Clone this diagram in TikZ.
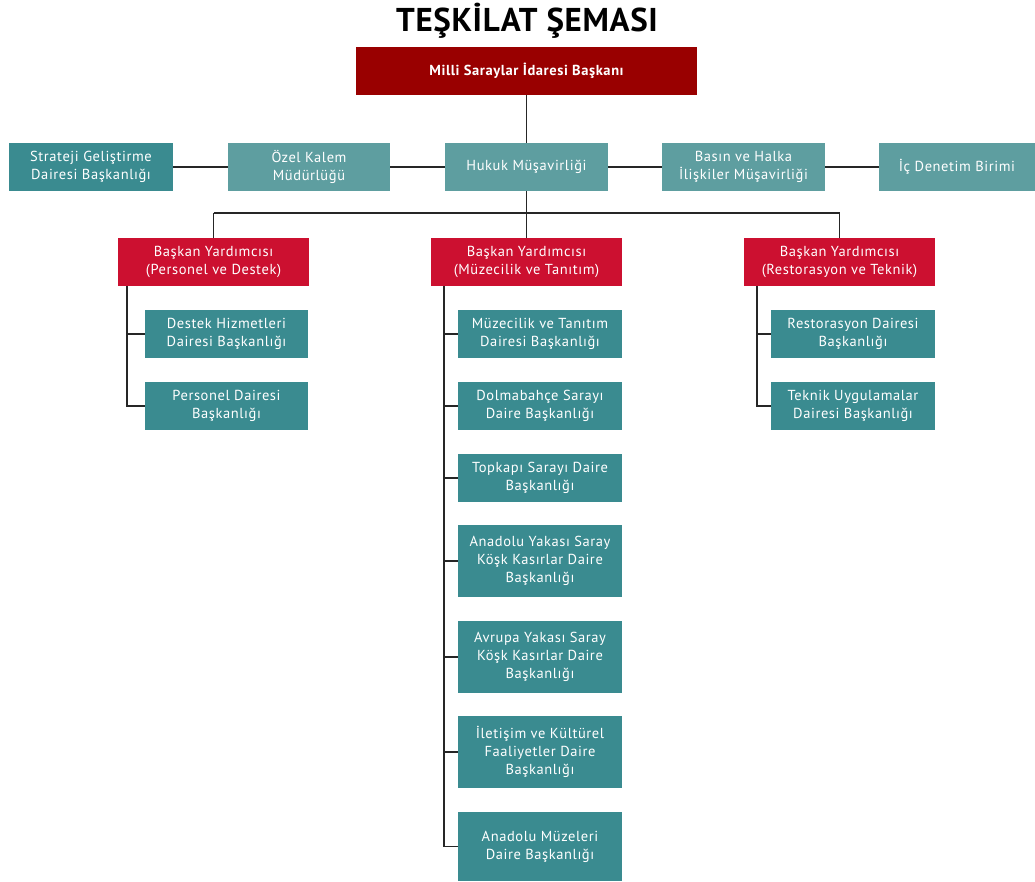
\documentclass[tikz,border=0pt]{standalone}
\usepackage{fontspec}
\setmainfont{PT Sans}[LetterSpace=4]
\newfontfamily\titlefont{PT Sans}[LetterSpace=2]
\begin{document}
\begin{tikzpicture}[x=1pt,y=-1pt,
  base/.style={draw=none,text=white,align=center,inner sep=2pt,
    font=\fontsize{14.5}{18}\selectfont,minimum height=48pt},
  darkred/.style={base,fill=topred,font=\bfseries\fontsize{14.5}{18}\selectfont},
  vicebox/.style={base,fill=vicered,minimum width=191pt},
  leadbox/.style={base,fill=leadteal,minimum width=163pt},
  unitbox/.style={base,fill=unitteal,minimum width=164pt},
  conn/.style={draw=black!85,line width=1.1pt}]
\definecolor{topred}{HTML}{990000}
\definecolor{vicered}{HTML}{CC1030}
\definecolor{leadteal}{HTML}{5E9EA0}
\definecolor{unitteal}{HTML}{3A8B90}
\useasboundingbox (0,0) rectangle (1035,881);

\node[font=\titlefont\bfseries\fontsize{33}{36}\selectfont] (title) at (527,21) {TEŞKİLAT ŞEMASI};

\node[darkred,minimum width=341pt] (top) at (526.5,71) {Milli Saraylar İdaresi Başkanı};

% second row
\node[unitbox] (strat) at (91,167) {Strateji Geliştirme\\Dairesi Başkanlığı};
\node[leadbox,minimum width=162pt] (ozel) at (309,167) {Özel Kalem\\Müdürlüğü};
\node[leadbox] (hukuk) at (526.5,167) {Hukuk Müşavirliği};
\node[leadbox] (basin) at (743.5,167) {Basın ve Halka\\İlişkiler Müşavirliği};
\node[leadbox,minimum width=156pt] (icden) at (957,167) {İç Denetim Birimi};

% vice presidents
\node[vicebox] (byl) at (213.5,262) {Başkan Yardımcısı\\(Personel ve Destek)};
\node[vicebox] (bym) at (526.5,262) {Başkan Yardımcısı\\(Müzecilik ve Tanıtım)};
\node[vicebox] (byr) at (839.5,262) {Başkan Yardımcısı\\(Restorasyon ve Teknik)};

% left units
\node[unitbox,minimum width=163pt] (l1) at (226.5,334) {Destek Hizmetleri\\Dairesi Başkanlığı};
\node[unitbox,minimum width=163pt] (l2) at (226.5,406) {Personel Dairesi\\Başkanlığı};

% middle units
\node[unitbox] (m1) at (540,334) {Müzecilik ve Tanıtım\\Dairesi Başkanlığı};
\node[unitbox] (m2) at (540,406) {Dolmabahçe Sarayı\\Daire Başkanlığı};
\node[unitbox] (m3) at (540,478) {Topkapı Sarayı Daire\\Başkanlığı};
\node[unitbox,minimum height=72pt] (m4) at (540,561) {Anadolu Yakası Saray\\Köşk Kasırlar Daire\\Başkanlığı};
\node[unitbox,minimum height=72pt] (m5) at (540,657) {Avrupa Yakası Saray\\Köşk Kasırlar Daire\\Başkanlığı};
\node[unitbox,minimum height=72pt] (m6) at (540,752) {İletişim ve Kültürel\\Faaliyetler Daire\\Başkanlığı};
\node[unitbox,minimum height=69pt] (m7) at (540,846.5) {Anadolu Müzeleri\\Daire Başkanlığı};

% right units
\node[unitbox] (r1) at (853,334) {Restorasyon Dairesi\\Başkanlığı};
\node[unitbox] (r2) at (853,406) {Teknik Uygulamalar\\Dairesi Başkanlığı};

% connectors
\coordinate (bus) at (526.5,213);
\coordinate (busl) at (213.5,213);
\coordinate (busr) at (839.5,213);
\draw[conn] (top.south) -- (hukuk.north);
\draw[conn] (hukuk.south) -- (bus) -- (bym.north);
\draw[conn] (busl) -- (busr);
\draw[conn] (busl) -- (byl.north);
\draw[conn] (busr) -- (byr.north);
\draw[conn] (strat.east) -- (ozel.west);
\draw[conn] (ozel.east) -- (hukuk.west);
\draw[conn] (hukuk.east) -- (basin.west);
\draw[conn] (basin.east) -- (icden.west);

\coordinate (ll) at (127,286);
\draw[conn] (ll) |- (l2.west);
\draw[conn] (ll |- l1.west) -- (l1.west);

\coordinate (ml) at (444,286);
\draw[conn] (ml) |- (m7.west);
\foreach \n in {m1,m2,m3,m4,m5,m6} \draw[conn] (ml |- \n.west) -- (\n.west);

\coordinate (rl) at (757,286);
\draw[conn] (rl) |- (r2.west);
\draw[conn] (rl |- r1.west) -- (r1.west);
\end{tikzpicture}
\end{document}
